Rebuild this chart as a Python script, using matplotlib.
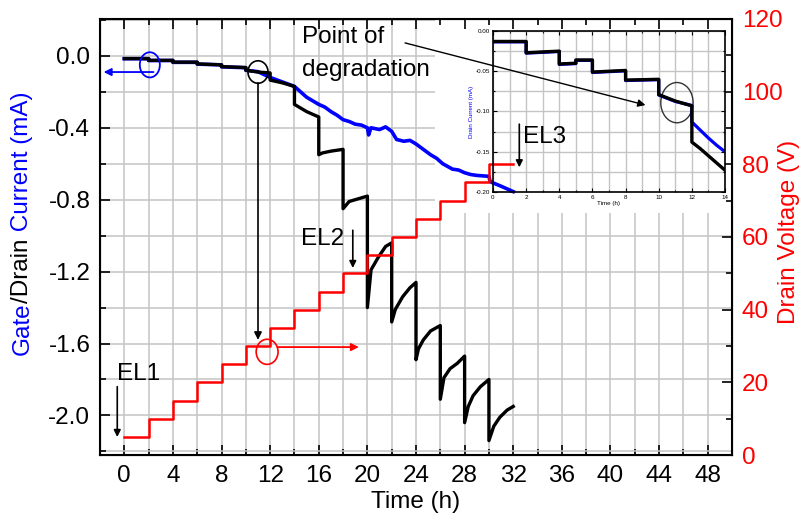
import matplotlib
matplotlib.use("Agg")
import matplotlib.pyplot as plt
from matplotlib.patches import Ellipse, Rectangle
from matplotlib.ticker import MultipleLocator, FormatStrFormatter

plt.rcParams["font.family"] = ["Liberation Sans", "DejaVu Sans"]
plt.rcParams["axes.unicode_minus"] = False

# drain current (black), mA vs time (h)
drain_t = [0, 2, 2, 4, 4, 6, 6, 8, 8, 10, 10, 11, 12, 12, 13, 14, 14, 15, 16, 16,
           16.3, 17, 18, 18, 18.5, 19, 20, 20, 20.3, 20.9, 21.5, 22, 22, 22.3, 22.9,
           23.5, 24, 24, 24.2, 24.6, 25.2, 26, 26, 26.3, 26.8, 27.4, 28, 28, 28.3,
           28.7, 29.3, 30, 30, 30.4, 30.9, 31.5, 32]
drain_i = [-0.015, -0.015, -0.025, -0.025, -0.035, -0.035, -0.045, -0.05, -0.06, -0.065,
           -0.08, -0.09, -0.095, -0.135, -0.15, -0.17, -0.27, -0.31, -0.34, -0.55,
           -0.54, -0.53, -0.52, -0.85, -0.81, -0.80, -0.78, -1.40, -1.19, -1.12,
           -1.06, -1.04, -1.48, -1.41, -1.34, -1.29, -1.26, -1.69, -1.63, -1.58,
           -1.53, -1.50, -1.91, -1.79, -1.74, -1.71, -1.67, -2.04, -1.95, -1.89,
           -1.84, -1.80, -2.14, -2.06, -2.01, -1.97, -1.95]

# gate current (blue)
gate_t = [0, 2, 2, 4, 4, 6, 6, 8, 8, 10, 10, 11, 12, 13, 14, 14.5, 15, 15.5, 16, 16.5,
          17, 17.5, 18, 18.5, 19, 19.5, 20, 20.1, 20.3, 21, 21.5, 22, 22.4, 23, 23.5,
          24, 24.6, 25.2, 25.7, 26.2, 27, 27.5, 28, 28.5, 29, 30, 30.1, 31, 32]
gate_i = [-0.016, -0.016, -0.026, -0.026, -0.036, -0.036, -0.046, -0.050, -0.061,
          -0.066, -0.080, -0.088, -0.12, -0.145, -0.17, -0.20, -0.23, -0.25, -0.27,
          -0.285, -0.31, -0.33, -0.355, -0.365, -0.38, -0.385, -0.40, -0.44, -0.40,
          -0.41, -0.395, -0.42, -0.465, -0.475, -0.47, -0.49, -0.52, -0.55, -0.57, -0.60,
          -0.63, -0.635, -0.65, -0.66, -0.665, -0.67, -0.70, -0.725, -0.755]

# drain voltage (red), V
volt_t = [0, 2, 4, 6, 8, 10, 12, 14, 16, 18, 20, 22, 24, 26, 28, 30, 32]
volt_v = [5, 10, 15, 20, 25, 30, 35, 40, 45, 50, 55, 60, 65, 70, 75, 80, 80]

# inset: zoom of first 14 h
ins_drain_t = [0, 2, 2, 4, 4, 5, 5, 6, 6, 8, 8, 10, 10, 10.5, 11, 11.5, 12, 12, 12.5,
               13, 13.5, 14]
ins_drain_i = [-0.013, -0.013, -0.027, -0.025, -0.041, -0.040, -0.036, -0.036, -0.051,
               -0.049, -0.061, -0.060, -0.079, -0.083, -0.087, -0.090, -0.093, -0.138,
               -0.146, -0.155, -0.164, -0.173]
ins_gate_t = [0, 2, 2, 4, 4, 5, 5, 6, 6, 8, 8, 10, 10, 11, 12, 12, 12.5, 13, 13.5, 14]
ins_gate_i = [-0.0135, -0.0135, -0.0275, -0.0255, -0.0415, -0.0405, -0.0365, -0.0365,
              -0.0515, -0.0495, -0.0615, -0.0605, -0.0795, -0.0875, -0.0925, -0.113,
              -0.123, -0.133, -0.142, -0.150]

FS = 17.5
BLUE = "#0000ff"
RED = "#ff0000"
GRID = "#c4c4c4"

fig = plt.figure(figsize=(8.03, 5.17), dpi=100)
ax = fig.add_axes([100 / 803, 62 / 517, 632 / 803, 436 / 517])
ax.set_xlim(-2, 50)
ax.set_ylim(-2.22, 0.205)
ax.xaxis.set_major_locator(MultipleLocator(4))
ax.xaxis.set_minor_locator(MultipleLocator(2))
ax.yaxis.set_major_locator(MultipleLocator(0.4))
ax.yaxis.set_minor_locator(MultipleLocator(0.2))
ax.yaxis.set_major_formatter(FormatStrFormatter("%.1f"))
ax.set_axisbelow(True)
ax.grid(True, which="both", color=GRID, lw=1.1)
ax.tick_params(which="both", direction="in", labelsize=FS, pad=7, width=1.2,
               top=False, right=False)
ax.tick_params(which="major", length=7)
ax.tick_params(which="minor", length=4)
for s in ax.spines.values():
    s.set_linewidth(1.5)

# white patch behind the inset
ax.add_patch(Rectangle((0.53, 0.555), 0.47, 0.445, transform=ax.transAxes,
                       facecolor="white", edgecolor="none", zorder=1))

ax.plot(gate_t, gate_i, color=BLUE, lw=2.6, zorder=2)
ax.plot(drain_t, drain_i, color="black", lw=2.4, zorder=2)

ax.set_xlabel("Time (h)", fontsize=FS, labelpad=3)

# two-colour y label
t1 = ax.text(-0.123, 0.229, "Gate", color=BLUE, fontsize=FS, rotation=90,
             ha="center", va="bottom", transform=ax.transAxes)
t2 = ax.annotate("/Drain", xy=(0.5, 1), xycoords=t1, color="black", fontsize=FS,
                 rotation=90, ha="center", va="bottom")
ax.annotate(" Current (mA)", xy=(0.5, 1), xycoords=t2, color=BLUE, fontsize=FS,
            rotation=90, ha="center", va="bottom")

ax2 = ax.twinx()
ax2.set_ylim(0, 120)
ax2.yaxis.set_major_locator(MultipleLocator(20))
ax2.yaxis.set_minor_locator(MultipleLocator(10))
ax2.xaxis.set_visible(True)
ax2.tick_params(axis="y", which="both", direction="in", labelsize=FS, pad=7,
                width=1.2, labelcolor=RED)
ax2.tick_params(axis="x", which="both", direction="in", top=True, bottom=False,
                labelbottom=False, labeltop=False, width=1.2)
ax2.tick_params(which="major", length=7)
ax2.tick_params(which="minor", length=4)
ax2.set_ylabel("Drain Voltage (V)", color=RED, fontsize=FS)
ax2.yaxis.set_label_coords(1.073, 0.511)
ax2.step(volt_t, volt_v, where="post", color=RED, lw=1.8)

# markers on main plot
ax.add_patch(Ellipse((2.1, -0.05), 1.65, 0.14, fill=False, edgecolor=BLUE, lw=1.3, zorder=3))
ax.annotate("", xy=(-1.7, -0.09), xytext=(2.4, -0.09),
            arrowprops=dict(arrowstyle="-|>", color=BLUE, lw=1.3, mutation_scale=11,
                            shrinkA=0, shrinkB=0))
ax.add_patch(Ellipse((11.0, -0.09), 1.65, 0.125, fill=False, edgecolor="black", lw=1.2, zorder=3))
ax.annotate("", xy=(11.0, -1.58), xytext=(11.0, -0.15),
            arrowprops=dict(arrowstyle="-|>", color="black", lw=1.2, mutation_scale=11,
                            shrinkA=0, shrinkB=0))
ax2.add_patch(Ellipse((11.75, 28.4), 1.8, 6.9, fill=False, edgecolor=RED, lw=1.2, zorder=3))
ax2.annotate("", xy=(19.3, 29.7), xytext=(12.6, 29.7),
             arrowprops=dict(arrowstyle="-|>", color=RED, lw=1.3, mutation_scale=11,
                             shrinkA=0, shrinkB=0))

ax.text(-0.6, -1.77, "EL1", fontsize=FS, ha="left", va="center", zorder=4)
ax.annotate("", xy=(-0.58, -2.12), xytext=(-0.58, -1.84),
            arrowprops=dict(arrowstyle="-|>", color="black", lw=1.2, mutation_scale=10,
                            shrinkA=0, shrinkB=0))
ax.text(14.5, -1.02, "EL2", fontsize=FS, ha="left", va="center", zorder=4)
ax.annotate("", xy=(18.8, -1.18), xytext=(18.8, -0.97),
            arrowprops=dict(arrowstyle="-|>", color="black", lw=1.2, mutation_scale=10,
                            shrinkA=0, shrinkB=0))

ax.text(14.6, 0.106, "Point of", fontsize=FS, ha="left", va="center", zorder=4)
ax.text(14.6, -0.078, "degradation", fontsize=FS, ha="left", va="center", zorder=4)

# inset
ins = fig.add_axes([493 / 803, 325 / 517, 232 / 803, 161 / 517])
ins.set_xlim(0, 14)
ins.set_ylim(-0.2, 0.0)
ins.xaxis.set_major_locator(MultipleLocator(2))
ins.xaxis.set_minor_locator(MultipleLocator(1))
ins.yaxis.set_major_locator(MultipleLocator(0.05))
ins.yaxis.set_minor_locator(MultipleLocator(0.025))
ins.yaxis.set_major_formatter(FormatStrFormatter("%.2f"))
ins.set_axisbelow(True)
ins.grid(True, which="both", color=GRID, lw=1.0)
ins.tick_params(which="both", direction="in", labelsize=4.5, pad=2, width=0.8,
                top=True, right=True)
ins.tick_params(which="major", length=3)
ins.tick_params(which="minor", length=1.5)
for s in ins.spines.values():
    s.set_linewidth(1.2)
ins.set_xlabel("Time (h)", fontsize=4.5, labelpad=1)
ins.set_ylabel("Drain Current (mA)", fontsize=4.5, labelpad=1, color=BLUE)

ins.plot(ins_gate_t, ins_gate_i, color=BLUE, lw=2.3)
ins.plot(ins_drain_t, ins_drain_i, color="black", lw=2.4)
ins.add_patch(Ellipse((11.1, -0.089), 1.95, 0.05, fill=False, edgecolor="#333333", lw=1.0))

# main-plot curves that run over the inset corner
ins.plot(gate_t, gate_i, color=BLUE, lw=2.6, transform=ax.transData)
ins.step(volt_t, volt_v, where="post", color=RED, lw=1.8, transform=ax2.transData)
ins.set_xlim(0, 14)
ins.set_ylim(-0.2, 0.0)

ins.text(32.8, -0.45, "EL3", fontsize=FS, ha="left", va="center", transform=ax.transData)
ins.annotate("", xy=(32.5, -0.62), xycoords=ax.transData, xytext=(32.5, -0.38),
             textcoords=ax.transData,
             arrowprops=dict(arrowstyle="-|>", color="black", lw=1.2, mutation_scale=10,
                             shrinkA=0, shrinkB=0))
ins.annotate("", xy=(9.2, -0.092), xycoords="data", xytext=(23.1, 0.072),
             textcoords=ax.transData,
             arrowprops=dict(arrowstyle="-|>", color="black", lw=1.0, mutation_scale=11,
                             shrinkA=0, shrinkB=0))

fig.savefig("out.png", dpi=100)
